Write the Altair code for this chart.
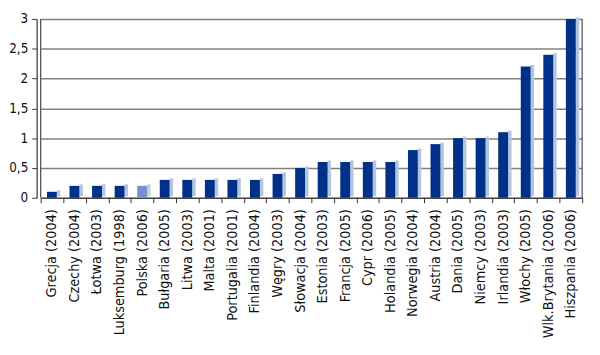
import altair as alt
import pandas as pd

kraje = ["Grecja (2004)", "Czechy (2004)", "Łotwa (2003)", "Luksemburg (1998)", "Polska (2006)",
         "Bułgaria (2005)", "Litwa (2003)", "Malta (2001)", "Portugalia (2001)", "Finlandia (2004)",
         "Węgry (2003)", "Słowacja (2004)", "Estonia (2003)", "Francja (2005)", "Cypr (2006)",
         "Holandia (2005)", "Norwegia (2004)", "Austria (2004)", "Dania (2005)", "Niemcy (2003)",
         "Irlandia (2003)", "Włochy (2005)", "Wlk.Brytania (2006)", "Hiszpania (2006)"]
wartosci = [0.1, 0.2, 0.2, 0.2, 0.2, 0.3, 0.3, 0.3, 0.3, 0.3, 0.4, 0.5, 0.6, 0.6, 0.6, 0.6,
            0.8, 0.9, 1.0, 1.0, 1.1, 2.2, 2.4, 3.0]
y_ticks = [0, 0.5, 1, 1.5, 2, 2.5, 3]

df = pd.DataFrame({"kraj": kraje, "v": wartosci})

W, H = 548, 181
FONT = "DejaVu Sans Condensed, sans-serif"

is_pl = alt.datum.kraj == "Polska (2006)"

x_enc = alt.X("kraj:N", sort=None, title=None,
              scale=alt.Scale(paddingInner=0, paddingOuter=0),
              axis=alt.Axis(labelAngle=-90, labelFont=FONT, labelFontSize=14.5,
                            labelColor="#111", labelPadding=6, tickBand="extent",
                            tickSize=5, tickColor="#333", domainColor="#333",
                            domainWidth=1.2, labelLimit=200, labelOverlap=False))
y_enc = alt.Y("v:Q", title=None,
              scale=alt.Scale(domain=[0, 3], nice=False),
              axis=alt.Axis(values=y_ticks, tickCount=7,
                            labelExpr="replace(toString(datum.value), '.', ',')",
                            labelFont=FONT, labelFontSize=13.5, labelColor="#111",
                            labelPadding=4, tickSize=5, tickColor="#333",
                            labelOverlap=False,
                            domainColor="#333", domainWidth=1.2, offset=4,
                            grid=True, gridColor="#808080", gridWidth=1.5))

side = alt.Chart(df).mark_bar(width=3.5, xOffset=6.75, yOffset=-1.5).encode(
    x=x_enc, y=y_enc,
    color=alt.condition(is_pl, alt.value("#c5d1e3"), alt.value("#b3c6e0")))

front = alt.Chart(df).mark_bar(width=10).encode(
    x=x_enc, y=y_enc,
    color=alt.condition(is_pl, alt.value("#7394c6"), alt.value("#003087")))

walls = alt.Chart(pd.DataFrame({"p": [0]})).mark_rule(color="#555", strokeWidth=1.2).encode(
    x=alt.value(0), y=alt.value(0), y2=alt.value(H))
wall_r = alt.Chart(pd.DataFrame({"p": [0]})).mark_rule(color="#555", strokeWidth=1.2).encode(
    x=alt.value(W), y=alt.value(0), y2=alt.value(H))

chart = alt.layer(side, front, walls, wall_r).properties(
    width=W, height=H,
    autosize=alt.AutoSizeParams(type="none"),
    padding={"left": 33, "top": 9, "right": 10, "bottom": 150},
).configure_view(stroke=None).configure(background="white")

chart.save("out.html", embed_options={"renderer": "svg", "actions": False})
